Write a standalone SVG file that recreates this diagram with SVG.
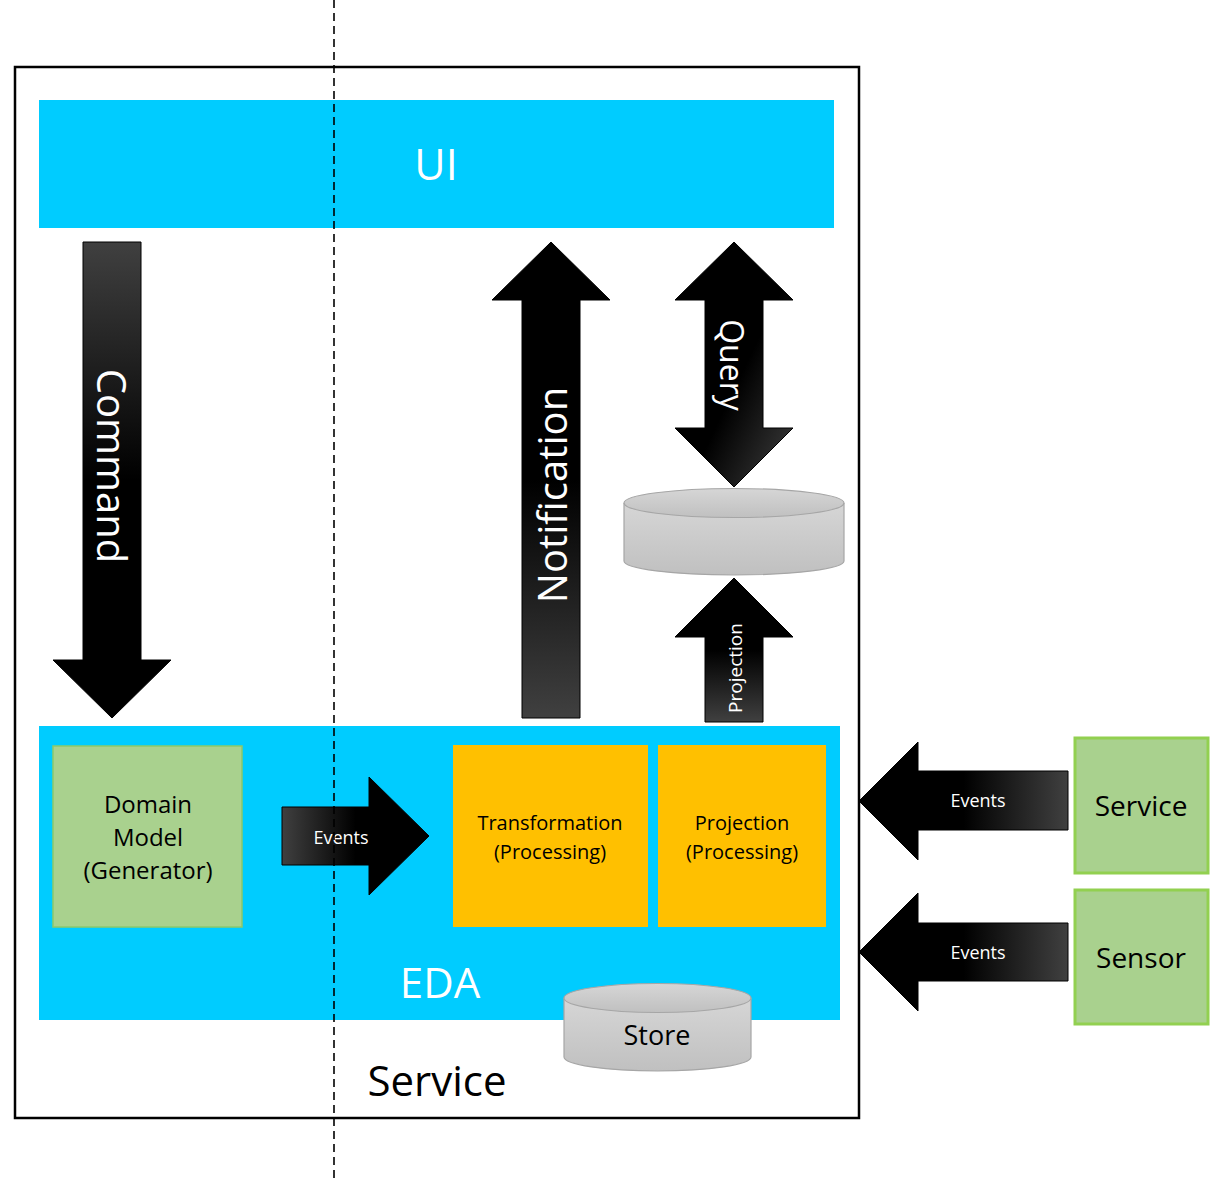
<svg xmlns="http://www.w3.org/2000/svg" width="1217" height="1180" viewBox="0 0 1217 1180">
<defs>
<linearGradient id="gDown" x1="0" y1="0" x2="0" y2="1"><stop offset="0" stop-color="#404040"/><stop offset="0.5" stop-color="#000"/><stop offset="1" stop-color="#000"/></linearGradient>
<linearGradient id="gUp" x1="0" y1="0" x2="0" y2="1"><stop offset="0" stop-color="#000"/><stop offset="0.5" stop-color="#000"/><stop offset="1" stop-color="#404040"/></linearGradient>
<linearGradient id="gDiag" x1="0" y1="0" x2="1" y2="1"><stop offset="0" stop-color="#000"/><stop offset="0.55" stop-color="#000"/><stop offset="1" stop-color="#404040"/></linearGradient>
<linearGradient id="gRight" x1="0" y1="0" x2="1" y2="0"><stop offset="0" stop-color="#404040"/><stop offset="0.5" stop-color="#000"/><stop offset="1" stop-color="#000"/></linearGradient>
<linearGradient id="gLeft" x1="0" y1="0" x2="1" y2="0"><stop offset="0" stop-color="#000"/><stop offset="0.5" stop-color="#000"/><stop offset="1" stop-color="#404040"/></linearGradient>
<linearGradient id="gCyl" x1="0" y1="0" x2="0" y2="1"><stop offset="0" stop-color="#d6d6d6"/><stop offset="1" stop-color="#c0c0c0"/></linearGradient>
</defs>
<style>
text{font-family:"Open Sans","Liberation Sans",sans-serif;}
.blue{fill:#00CCFF;}
.arrow{stroke:#000;stroke-width:1;}
.wt{fill:#fff;}
.bk{fill:#000;}
.green{fill:#A9D18E;}
.orange{fill:#FFC000;}
.cyl{fill:url(#gCyl);stroke:#a6a6a6;stroke-width:1.2;}
</style>
<rect x="0" y="0" width="1217" height="1180" fill="#fff"/>
<g id="service-boundary">
<rect x="15" y="67" width="844" height="1051" fill="#fff" stroke="#000" stroke-width="2.5"/>
<text x="437" y="1096" font-size="42" text-anchor="middle" class="bk">Service</text>
</g>
<g id="ui">
<rect x="39" y="100" width="795" height="128" class="blue"/>
<text x="436" y="180" font-size="43" text-anchor="middle" class="wt">UI</text>
</g>
<g id="eda">
<rect x="39" y="726" width="801" height="294" class="blue"/>
<text x="440" y="998" font-size="42" text-anchor="middle" class="wt">EDA</text>
</g>
<g id="domain-model">
<rect x="53" y="746" width="189" height="181" class="green" stroke="#8cc96a" stroke-width="1.5"/>
<text font-size="24" text-anchor="middle" class="bk"><tspan x="148" y="813">Domain</tspan><tspan x="148" y="846">Model</tspan><tspan x="148" y="879">(Generator)</tspan></text>
</g>
<g id="transformation">
<rect x="453" y="745" width="195" height="182" class="orange"/>
<text font-size="20" text-anchor="middle" class="bk"><tspan x="550" y="830">Transformation</tspan><tspan x="550" y="859">(Processing)</tspan></text>
</g>
<g id="projection">
<rect x="658" y="745" width="168" height="182" class="orange"/>
<text font-size="20" text-anchor="middle" class="bk"><tspan x="742" y="830">Projection</tspan><tspan x="742" y="859">(Processing)</tspan></text>
</g>
<g id="read-store">
<path d="M624,503 V561 A110,14 0 0 0 844,561 V503" class="cyl"/>
<ellipse cx="734" cy="503" rx="110" ry="14.5" class="cyl"/>
</g>
<g id="store">
<path d="M564,998 V1057 A93.5,14 0 0 0 751,1057 V998" class="cyl"/>
<ellipse cx="657.5" cy="998" rx="93.5" ry="14.5" class="cyl"/>
<text x="657" y="1045" font-size="27" text-anchor="middle" class="bk">Store</text>
</g>
<g id="ext-service">
<rect x="1075" y="738" width="133" height="135" class="green" stroke="#92D050" stroke-width="3"/>
<text x="1141" y="816" font-size="28" text-anchor="middle" class="bk">Service</text>
</g>
<g id="ext-sensor">
<rect x="1075" y="890" width="133" height="134" class="green" stroke="#92D050" stroke-width="3"/>
<text x="1141" y="968" font-size="28" text-anchor="middle" class="bk">Sensor</text>
</g>
<g id="connectors">
<g id="command-arrow">
<path d="M83,242 H141 V660 H171 L112,718 L53,660 H83 Z" fill="url(#gDown)" class="arrow"/>
<text transform="translate(112,466) rotate(90)" font-size="40" text-anchor="middle" dominant-baseline="central" class="wt">Command</text>
</g>
<g id="notification-arrow">
<path d="M522,718 V300 H492 L551,242 L610,300 H580 V718 Z" fill="url(#gUp)" class="arrow"/>
<text transform="translate(551,495) rotate(-90)" font-size="40" text-anchor="middle" dominant-baseline="central" class="wt">Notification</text>
</g>
<g id="query-arrow">
<path d="M734,242 L793,300 H763 V428 H793 L734,487 L675,428 H705 V300 H675 Z" fill="url(#gDiag)" class="arrow"/>
<text transform="translate(732,365) rotate(90)" font-size="32" text-anchor="middle" dominant-baseline="central" class="wt">Query</text>
</g>
<g id="projection-arrow">
<path d="M734,578 L793,637 H763 V722 H705 V637 H675 Z" fill="url(#gUp)" class="arrow"/>
<text transform="translate(735,668) rotate(-90)" font-size="19" text-anchor="middle" dominant-baseline="central" class="wt">Projection</text>
</g>
<g id="events-inner">
<path d="M282,807 H369 V777 L429,836 L369,895 V865 H282 Z" fill="url(#gRight)" class="arrow"/>
<text x="341" y="844" font-size="18" text-anchor="middle" class="wt">Events</text>
</g>
<g id="events-service">
<path d="M859,801 L918,742 V771 H1068 V830 H918 V860 Z" fill="url(#gLeft)" class="arrow"/>
<text x="978" y="807" font-size="18" text-anchor="middle" class="wt">Events</text>
</g>
<g id="events-sensor">
<path d="M859,952 L918,893 V923 H1068 V981 H918 V1011 Z" fill="url(#gLeft)" class="arrow"/>
<text x="978" y="959" font-size="18" text-anchor="middle" class="wt">Events</text>
</g>
</g>
<line x1="334" y1="0" x2="334" y2="1180" stroke="#000" stroke-width="1.6" stroke-dasharray="8,5"/>
</svg>
